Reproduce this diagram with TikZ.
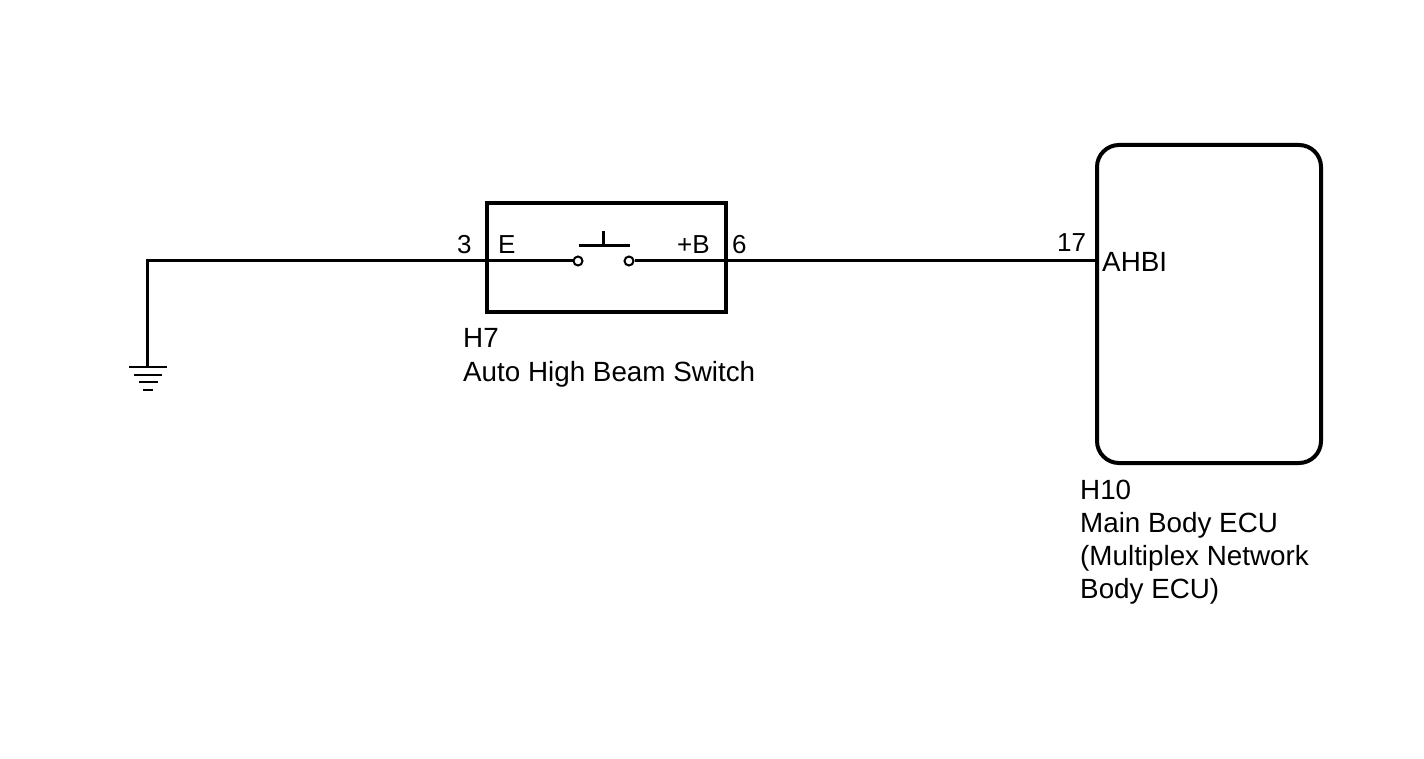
\documentclass[tikz,border=0pt]{standalone}
\usepackage{fontspec}
\setmainfont{Liberation Sans}
\begin{document}
\begin{tikzpicture}[x=1pt,y=-1pt,
  wire/.style={line width=3pt},
  boxline/.style={line width=4pt},
  gbar/.style={line width=2.5pt},
  contact/.style={circle,draw,line width=2pt,minimum size=9pt,inner sep=0pt,fill=white},
  pinlbl/.style={font=\fontsize{26}{30}\selectfont,inner sep=0pt,anchor=base west},
  lbl/.style={font=\fontsize{27.8}{33}\selectfont,inner sep=0pt,anchor=base west}]
\useasboundingbox (0,0) rectangle (1424,759);
% switch box
\node[draw,boxline,rectangle,minimum width=239pt,minimum height=109pt,inner sep=0pt] (sw) at (606.5,257.5) {};
% ECU box
\node[draw,boxline,rectangle,rounded corners=22pt,minimum width=224pt,minimum height=318pt,inner sep=0pt] (ecu) at (1209,304) {};
% contacts
\node[contact] (c1) at (578,261) {};
\node[contact] (c2) at (629,261) {};
% ground
\coordinate (gtop) at (147,261);
\coordinate (gbot) at (147,367);
\draw[wire] (gbot) -- (gtop) -- (c1.west);
\draw[wire] (c2.east) -- (c2.east -| ecu.west);
% push button
\draw[wire] (579,246) -- (630,246);
\draw[wire] (603,231) -- (603,246);
% ground bars
\draw[gbar] (129,367) -- (167,367);
\draw[gbar] (134,375) -- (162,375);
\draw[gbar] (139,382) -- (158,382);
\draw[gbar] (143,390) -- (153,390);
% pin labels
\node[pinlbl] (p3) at (457,254) {3};
\node[pinlbl] (pE) at (498,254) {E};
\node[pinlbl] (pB) at (677,254) {+B};
\node[pinlbl] (p6) at (732,254) {6};
\node[pinlbl] (p17) at (1057,252) {17};
\node[lbl] (ahbi) at (1102,272) {AHBI};
% component labels
\node[lbl] (h7) at (463,347) {H7};
\node[lbl] (h7n) at (463,381) {Auto High Beam Switch};
\node[lbl] (h10) at (1080,499) {H10};
\node[lbl] (h10a) at (1080,532) {Main Body ECU};
\node[lbl] (h10b) at (1080,565) {(Multiplex Network};
\node[lbl] (h10c) at (1080,598) {Body ECU)};
\end{tikzpicture}
\end{document}
